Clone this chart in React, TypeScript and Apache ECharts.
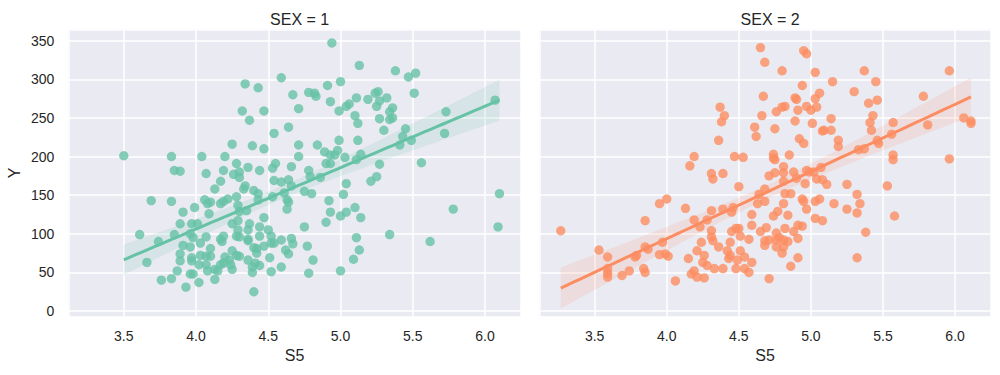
import React, { useEffect, useRef } from "react";
import * as echarts from "echarts";

// SEX = 1 : S5 vs Y
const sex1S5 = [
  3.50, 3.61, 3.69, 3.66, 3.74, 3.76, 3.83, 3.85, 3.89, 3.83, 3.85, 3.83, 3.87, 3.91, 3.89, 3.91, 3.89, 3.89, 3.93, 3.96,
  3.98, 3.96, 3.98, 3.96, 3.97, 4.01, 3.99, 3.97, 3.97, 4.02, 4.04, 4.07, 4.06, 4.08, 4.10, 4.09, 4.03, 4.03, 4.02, 4.07,
  4.07, 4.07, 4.08, 4.10, 4.10, 4.13, 4.13, 4.15, 4.13, 4.17, 4.19, 4.20, 4.17, 4.19, 4.22, 4.17, 4.19, 4.18, 4.20, 4.19,
  4.23, 4.24, 4.25, 4.17, 4.25, 4.28, 4.30, 4.26, 4.30, 4.28, 4.29, 4.30, 4.25, 4.29, 4.29, 4.28, 4.30, 4.25, 4.28, 4.30,
  4.34, 4.32, 4.37, 4.36, 4.34, 4.33, 4.35, 4.36, 4.36, 4.36, 4.37, 4.36, 4.39, 4.39, 4.39, 4.40, 4.43, 4.44, 4.40, 4.43,
  4.43, 4.44, 4.40, 4.42, 4.42, 4.44, 4.44, 4.41, 4.47, 4.47, 4.47, 4.47, 4.50, 4.52, 4.52, 4.51, 4.52, 4.53, 4.55, 4.54,
  4.53, 4.54, 4.54, 4.59, 4.59, 4.59, 4.59, 4.64, 4.64, 4.61, 4.63, 4.64, 4.63, 4.62, 4.64, 4.66, 4.66, 4.66, 4.67, 4.67,
  4.71, 4.71, 4.71, 4.75, 4.75, 4.77, 4.78, 4.78, 4.82, 4.83, 4.78, 4.79, 4.86, 4.80, 4.81, 4.84, 4.91, 4.89, 4.90, 4.93,
  4.93, 4.92, 4.93, 4.90, 4.94, 4.93, 5.00, 4.99, 4.99, 4.98, 4.96, 5.03, 5.02, 5.00, 5.04, 5.04, 5.00, 5.04, 5.06, 5.11,
  5.10, 5.12, 5.12, 5.11, 5.14, 5.13, 5.10, 5.14, 5.11, 5.13, 5.09, 5.19, 5.24, 5.26, 5.25, 5.27, 5.32, 5.27, 5.30, 5.27,
  5.25, 5.21, 5.34, 5.36, 5.34, 5.36, 5.38, 5.34, 5.45, 5.43, 5.41, 5.49, 5.47, 5.52, 5.51, 5.56, 5.62, 5.73, 5.72, 5.78,
  6.07, 6.10, 6.09,
];
const sex1Y = [
  201, 99, 143, 63, 90, 40, 200, 182, 181, 142, 99, 42, 52, 128, 113, 85, 74, 65, 31, 48,
  48, 100, 95, 83, 113, 113, 134, 65, 69, 37, 200, 178, 144, 139, 141, 126, 88, 72, 60, 96,
  71, 60, 52, 81, 71, 41, 54, 52, 158, 168, 182, 200, 139, 142, 145, 93, 97, 90, 70, 62,
  66, 60, 54, 60, 216, 191, 180, 177, 173, 148, 137, 129, 113, 117, 105, 97, 96, 78, 72, 71,
  294, 259, 247, 186, 162, 158, 130, 105, 93, 66, 113, 91, 57, 214, 50, 25, 289, 182, 156, 152,
  144, 109, 82, 81, 75, 97, 59, 62, 259, 210, 121, 84, 105, 97, 88, 69, 51, 185, 191, 169,
  148, 230, 88, 302, 167, 92, 57, 238, 170, 153, 144, 141, 132, 79, 74, 187, 162, 94, 87, 280,
  262, 215, 200, 155, 109, 84, 49, 283, 282, 278, 182, 174, 173, 152, 66, 215, 292, 206, 191, 202,
  191, 143, 128, 115, 347, 271, 297, 259, 221, 208, 202, 199, 151, 123, 165, 128, 52, 265, 268, 276,
  253, 243, 221, 196, 203, 318, 134, 121, 95, 79, 67, 274, 282, 284, 265, 272, 276, 249, 234, 190,
  174, 168, 258, 263, 248, 250, 311, 99, 236, 226, 215, 221, 303, 308, 282, 192, 90, 258, 230, 132,
  273, 152, 109,
];

// SEX = 2 : S5 vs Y
const sex2S5 = [
  3.265, 3.53, 3.59, 3.59, 3.59, 3.59, 3.69, 3.74, 3.78, 3.79, 3.85, 3.85, 3.87, 3.84, 3.85, 3.95, 4.00, 3.97, 3.95, 3.99,
  4.01, 4.06, 4.13, 4.16, 4.19, 4.19, 4.23, 4.24, 4.21, 4.15, 4.17, 4.19, 4.21, 4.26, 4.25, 4.28, 4.26, 4.33, 4.31, 4.32,
  4.31, 4.28, 4.31, 4.31, 4.32, 4.36, 4.37, 4.40, 4.38, 4.36, 4.39, 4.39, 4.39, 4.42, 4.43, 4.44, 4.44, 4.45, 4.45, 4.46,
  4.47, 4.48, 4.50, 4.51, 4.49, 4.48, 4.51, 4.53, 4.50, 4.54, 4.54, 4.57, 4.59, 4.57, 4.59, 4.59, 4.63, 4.64, 4.68, 4.68,
  4.65, 4.69, 4.68, 4.68, 4.71, 4.71, 4.65, 4.68, 4.67, 4.66, 4.61, 4.62, 4.75, 4.76, 4.80, 4.82, 4.80, 4.74, 4.74, 4.75,
  4.71, 4.75, 4.81, 4.81, 4.81, 4.85, 4.88, 4.90, 4.74, 4.77, 4.81, 4.84, 4.82, 4.86, 4.76, 4.78, 4.76, 4.76, 4.81, 4.82,
  4.81, 4.80, 4.84, 4.86, 4.88, 4.91, 4.91, 4.94, 4.91, 4.89, 4.90, 4.94, 4.95, 4.97, 5.03, 4.91, 4.97, 4.89, 4.92, 4.95,
  5.03, 5.06, 5.00, 5.04, 5.01, 5.08, 5.09, 5.14, 5.14, 5.15, 5.19, 5.19, 4.97, 4.99, 5.02, 5.07, 4.96, 5.04, 5.08, 5.11,
  4.94, 4.95, 4.97, 5.03, 5.06, 5.03, 5.08, 5.16, 5.25, 5.25, 5.32, 5.34, 5.32, 5.38, 5.32, 5.30, 5.37, 5.45, 5.46, 5.40,
  5.43, 5.41, 5.42, 5.33, 5.37, 5.46, 5.47, 5.57, 5.56, 5.57, 5.57, 5.53, 5.58, 5.78, 5.81, 5.96, 5.96, 6.06, 6.11, 6.11,
];
const sex2Y = [
  104, 79, 70, 55, 49, 44, 46, 52, 70, 72, 117, 83, 80, 55, 50, 139, 145, 89, 73, 74,
  71, 39, 133, 188, 200, 118, 109, 89, 78, 68, 48, 52, 44, 72, 63, 59, 43, 55, 178, 171,
  130, 118, 104, 96, 91, 83, 264, 253, 245, 221, 178, 132, 55, 78, 68, 72, 89, 103, 128, 134,
  200, 107, 107, 97, 66, 55, 78, 199, 161, 70, 55, 50, 63, 93, 111, 125, 139, 151, 158, 142,
  103, 108, 91, 85, 92, 42, 341, 322, 278, 253, 238, 226, 236, 258, 264, 265, 311, 203, 198, 196,
  175, 179, 187, 179, 168, 202, 180, 172, 123, 129, 139, 124, 152, 152, 101, 95, 92, 83, 92, 107,
  83, 75, 90, 58, 103, 94, 111, 110, 69, 276, 274, 292, 337, 333, 309, 260, 265, 246, 223, 217,
  275, 282, 260, 264, 243, 233, 234, 249, 234, 297, 221, 213, 182, 180, 180, 186, 165, 171, 170, 164,
  145, 142, 132, 142, 145, 120, 117, 139, 132, 164, 151, 139, 127, 102, 69, 284, 311, 297, 273, 269,
  253, 244, 234, 209, 210, 221, 217, 244, 229, 202, 196, 162, 123, 278, 241, 311, 197, 250, 246, 243,
];

const xTickDecimals = 1;
const panelTitles = ["SEX = 1", "SEX = 2"];
const colors = ["#66c2a5", "#fc8d62"];

function regression(xs: number[], ys: number[]) {
  const n = xs.length;
  const mx = xs.reduce((a, b) => a + b, 0) / n;
  const my = ys.reduce((a, b) => a + b, 0) / n;
  let sxx = 0, sxy = 0;
  for (let i = 0; i < n; i++) {
    sxx += (xs[i] - mx) ** 2;
    sxy += (xs[i] - mx) * (ys[i] - my);
  }
  const b = sxy / sxx;
  const a = my - b * mx;
  let sse = 0;
  for (let i = 0; i < n; i++) sse += (ys[i] - a - b * xs[i]) ** 2;
  const s = Math.sqrt(sse / (n - 2));
  const t = 1.97;
  const lo = Math.min(...xs), hi = Math.max(...xs);
  const line: number[][] = [];
  const band: number[][] = [];
  const steps = 60;
  for (let k = 0; k <= steps; k++) {
    const x = lo + ((hi - lo) * k) / steps;
    const yh = a + b * x;
    const se = s * Math.sqrt(1 / n + (x - mx) ** 2 / sxx);
    line.push([x, yh]);
    band.push([x, yh - t * se, yh + t * se]);
  }
  return { line, band };
}

const FONT = "'Liberation Sans', Arial, sans-serif";
const TXT = "#262626";

export default function App() {
  const ref = useRef<HTMLDivElement>(null);
  useEffect(() => {
    if (!ref.current) return;
    const chart = echarts.init(ref.current, null, { renderer: "svg" });
    const datasets = [
      { xs: sex1S5, ys: sex1Y },
      { xs: sex2S5, ys: sex2Y },
    ];
    const grids = [
      { left: 68.3, top: 29.3, width: 452.7, height: 287.4 },
      { left: 539.3, top: 29.3, width: 451.7, height: 287.4 },
    ];
    const series: any[] = [];
    datasets.forEach((d, i) => {
      const { line, band } = regression(d.xs, d.ys);
      series.push({
        type: "scatter",
        xAxisIndex: i,
        yAxisIndex: i,
        data: d.xs.map((x, j) => [x, d.ys[j]]),
        symbolSize: 9.4,
        itemStyle: { color: colors[i], opacity: 0.8 },
        silent: true,
        z: 2,
      });
      series.push({
        type: "custom",
        xAxisIndex: i,
        yAxisIndex: i,
        data: band,
        encode: { x: 0, y: [1, 2] },
        silent: true,
        z: 3,
        renderItem: (params: any, api: any) => {
          if (params.dataIndex !== 0) return null;
          const upper = band.map((b) => api.coord([b[0], b[2]]));
          const lower = band.map((b) => api.coord([b[0], b[1]])).reverse();
          return {
            type: "polygon",
            shape: { points: upper.concat(lower) },
            style: { fill: colors[i], opacity: 0.15 },
          };
        },
      });
      series.push({
        type: "line",
        xAxisIndex: i,
        yAxisIndex: i,
        data: line,
        showSymbol: false,
        lineStyle: { color: colors[i], width: 3 },
        silent: true,
        z: 4,
      });
    });

    const axisCommon = {
      type: "value",
      axisLine: { show: false },
      axisTick: { show: false },
      splitLine: { show: true, lineStyle: { color: "#ffffff", width: 1.5 } },
    };

    chart.setOption({
      animation: false,
      textStyle: { fontFamily: FONT },
      title: panelTitles.map((t, i) => ({
        text: t,
        left: grids[i].left + grids[i].width / 2,
        textAlign: "center",
        top: 6,
        textStyle: { fontFamily: FONT, fontSize: 16, fontWeight: "normal", color: TXT },
      })),
      grid: grids.map((g) => ({
        ...g,
        show: true,
        backgroundColor: "#EAEAF2",
        borderWidth: 0,
      })),
      xAxis: grids.map((_, i) => ({
        ...axisCommon,
        gridIndex: i,
        min: 3.116,
        max: 6.249,
        splitNumber: 5,
        name: "S5",
        nameLocation: "middle",
        nameGap: 31,
        nameTextStyle: { fontFamily: FONT, fontSize: 16, color: TXT },
        axisLabel: {
          color: TXT,
          fontFamily: FONT,
          fontSize: 14,
          margin: 12,
          showMinLabel: false,
          showMaxLabel: false,
          formatter: (v: number) => v.toFixed(xTickDecimals),
        },
      })),
      yAxis: grids.map((_, i) => ({
        ...axisCommon,
        gridIndex: i,
        min: -7.3,
        max: 364.7,
        splitNumber: 7,
        name: i === 0 ? "Y" : "",
        nameLocation: "middle",
        nameGap: 46,
        nameRotate: 90,
        nameTextStyle: { fontFamily: FONT, fontSize: 16, color: TXT },
        axisLabel: {
          show: i === 0,
          color: TXT,
          fontFamily: FONT,
          fontSize: 14,
          margin: 14,
          showMinLabel: false,
          showMaxLabel: false,
        },
      })),
      series,
    });
    return () => chart.dispose();
  }, []);
  return (
    <div
      ref={ref}
      style={{ position: "absolute", left: 0, top: 0, width: 1000, height: 375 }}
    />
  );
}
